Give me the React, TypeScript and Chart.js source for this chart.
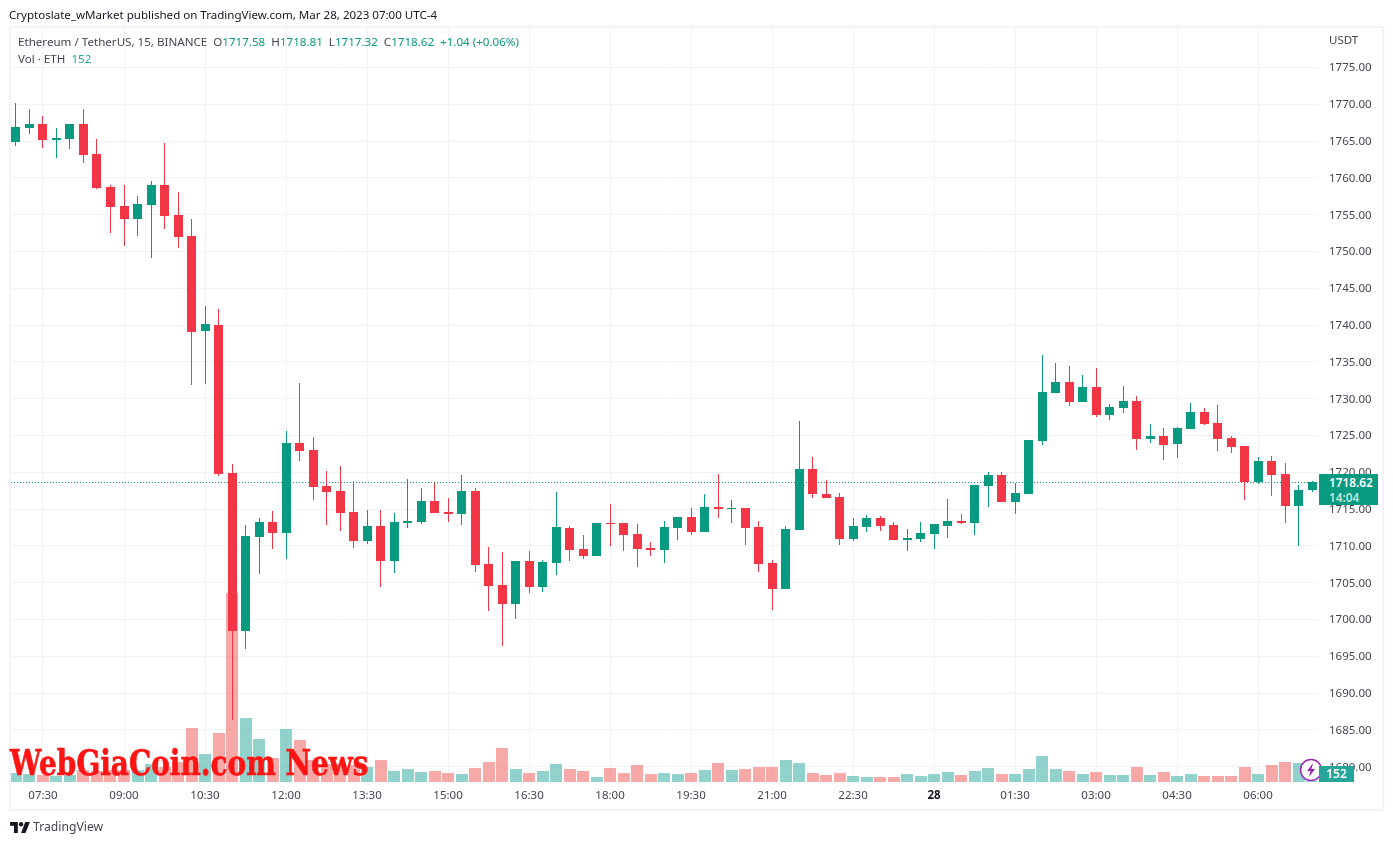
import React, { useEffect, useRef } from "react";
import { Chart, registerables } from "chart.js";

Chart.register(...registerables);

// prettier-ignore
const candleOpen = [1764.95,1766.8,1767.35,1765.2,1765.3,1767.35,1763.25,1758.8,1756.2,1754.45,1756.35,1759.05,1755,1752.1,1739.2,1740.05,1719.9,1698.5,1711.2,1713.3,1711.8,1724,1723.05,1718.15,1717.5,1714.65,1710.7,1712.75,1708,1713.15,1713.25,1716.1,1714.65,1714.35,1717.5,1707.55,1704.7,1702.15,1708,1704.45,1707.7,1712.45,1709.6,1708.65,1713.15,1713.15,1711.65,1709.75,1709.45,1712.45,1713.95,1711.9,1715.3,1715,1715.15,1712.6,1707.7,1704.15,1712.15,1720.45,1717.05,1716.65,1710.9,1712.55,1713.75,1712.8,1710.75,1710.9,1711.6,1712.65,1713.35,1713.1,1718.1,1719.6,1715.95,1717,1724.2,1730.75,1732.25,1729.5,1731.55,1727.75,1728.7,1729.65,1724.5,1724.9,1723.8,1725.85,1728.15,1726.65,1724.65,1723.55,1718.65,1721.5,1719.75,1715.4,1717.58];
// prettier-ignore
const candleHigh = [1770.15,1769.4,1768.4,1766.8,1767.35,1769.4,1765.3,1759.05,1759.05,1757.55,1759.6,1764.75,1758.1,1754.45,1742.6,1742.2,1721.15,1712.85,1713.8,1714.75,1725.65,1732.15,1724.8,1720.2,1720.9,1718.85,1714.9,1714.9,1714.5,1719.1,1717.9,1718.55,1716.5,1719.65,1717.9,1709.85,1709.2,1708,1709.35,1708.1,1717.35,1712.75,1711.5,1713.15,1715.7,1713.15,1713,1710.55,1713.4,1713.95,1715.15,1717.05,1719.8,1716.2,1715.15,1713.4,1708.1,1712.75,1727,1722.1,1719,1717.2,1713.75,1714.15,1714,1713.2,1712.25,1713.2,1712.95,1716.35,1714.3,1718.25,1720,1720,1718.5,1724.35,1736,1734.8,1734.4,1733.2,1734.15,1729.25,1731.7,1730.35,1726.55,1726,1726.1,1729.4,1728.7,1729.1,1724.9,1723.55,1722.05,1722.2,1721.25,1718.25,1718.81];
// prettier-ignore
const candleLow = [1764.4,1766,1764.1,1762.7,1763.95,1762.05,1758.5,1752.5,1750.8,1752.1,1749.15,1753.1,1750.5,1731.9,1732,1719.5,1686.4,1696,1706.2,1709.6,1708.25,1721.55,1716.25,1712.85,1712.05,1709.75,1710.3,1704.45,1706.35,1712.45,1713,1714.5,1713.25,1712.85,1706.5,1701.2,1696.4,1700.1,1703.6,1703.75,1706.05,1707.95,1708.25,1708.65,1710,1709.35,1707.15,1708.65,1707.7,1710.8,1711.5,1711.9,1713.8,1713.15,1710.15,1706.5,1701.3,1704.15,1712.15,1716.55,1716.55,1710.15,1710.65,1711.85,1712,1710.75,1709.25,1710.5,1709.55,1711.05,1712.95,1711.45,1715.25,1715.95,1714.3,1717,1723.7,1730.75,1729,1729.5,1727.5,1727.05,1728,1723,1723.95,1721.65,1721.9,1725.85,1726.4,1722.85,1722.6,1716.2,1718.4,1716.85,1713.1,1710,1717.32];
// prettier-ignore
const candleClose = [1766.94,1767.35,1765.2,1765.45,1767.35,1763.1,1758.65,1756.05,1754.45,1756.5,1759.05,1754.85,1752,1739.1,1740.17,1719.8,1698.5,1711.4,1713.3,1711.8,1724,1722.9,1718,1717.35,1714.5,1710.7,1712.75,1708,1713.25,1713.4,1716.1,1714.5,1714.35,1717.5,1707.4,1704.55,1702.15,1708,1704.45,1707.85,1712.6,1709.45,1708.65,1713.15,1713,1711.5,1709.6,1709.45,1712.6,1713.95,1711.9,1715.3,1715.05,1715.15,1712.45,1707.55,1704.15,1712.3,1720.45,1717.05,1716.55,1710.95,1712.65,1713.75,1712.65,1710.75,1711.05,1711.7,1712.95,1713.35,1713.1,1718.25,1719.6,1715.95,1717.15,1724.35,1730.9,1732.25,1729.5,1731.55,1727.75,1728.85,1729.65,1724.5,1724.9,1723.7,1726,1728.15,1726.55,1724.5,1723.4,1718.65,1721.5,1719.6,1715.4,1717.55,1718.62];
// prettier-ignore
const candleVolume = [1305,1155,1005,855,1005,1755,1605,1755,1755,1800,2700,2250,3000,8055,4155,7305,28350,9555,6405,3555,7905,6255,3300,2700,2700,2550,2205,3255,1605,1905,1455,1605,1305,1155,2100,3000,5100,1950,1350,1650,2700,1950,1650,750,2100,1350,2550,1200,1350,1200,1350,1800,2850,1800,1950,2250,2250,3300,2850,1350,1050,1350,900,750,750,750,1200,900,1200,1500,1050,1650,2100,1200,1200,1950,3900,1950,1650,1200,1500,1050,1050,2250,1050,1500,900,1200,900,900,900,2250,1200,2550,3000,2850,152];

const timeTickIndex = [2, 8, 14, 20, 26, 32, 38, 44, 50, 56, 62, 68, 74, 80, 86, 92];
const timeTickLabels = ["07:30", "09:00", "10:30", "12:00", "13:30", "15:00", "16:30", "18:00", "19:30", "21:00", "22:30", "28", "01:30", "03:00", "04:30", "06:00"];
const priceTicks = [1775, 1770, 1765, 1760, 1755, 1750, 1745, 1740, 1735, 1730, 1725, 1720, 1715, 1710, 1705, 1700, 1695, 1690, 1685, 1680];
const lastPrice = 1718.62;
const xMin = -0.37;
const xMax = 96.44;

const GREEN = "#089981";
const RED = "#F23645";
const VOL_GREEN = "rgba(38,166,154,0.5)";
const VOL_RED = "rgba(239,83,80,0.5)";
const GRID = "#f1f2f4";
const TEXT = "#434651";
const FONT = "'Noto Sans', sans-serif";

const isUp = (i: number) => candleClose[i] >= candleOpen[i];
const isDayTick = (c: any) => timeTickLabels[timeTickIndex.indexOf(c.tick?.value)] === "28";

const snapBars = {
  id: "snapBars",
  beforeDatasetsDraw(chart: any) {
    chart.data.datasets.forEach((ds: any, di: number) => {
      if (ds.type === "line") return;
      chart.getDatasetMeta(di).data.forEach((el: any) => {
        if (ds.snapKind === "vol") {
          el.x = Math.round(el.x);
        } else {
          el.x = Math.floor(el.x) + 0.5;
        }
        el.y = Math.round(el.y);
        el.base = Math.round(el.base);
        if (Math.abs(el.base - el.y) < 1) el.base = el.y + 1;
      });
    });
  },
};

function TextAt({ style, children }: { style: React.CSSProperties; children: React.ReactNode }) {
  return <div style={{ position: "absolute", whiteSpace: "pre", fontFamily: FONT, ...style }}>{children}</div>;
}

export default function App() {
  const ref = useRef<HTMLCanvasElement | null>(null);
  useEffect(() => {
    document.body.style.margin = "0";
    const idx = candleOpen.map((_, i) => i);
    const chart = new Chart(ref.current as HTMLCanvasElement, {
      type: "bar",
      data: {
        datasets: [
          {
            type: "line",
            data: [{ x: xMin, y: lastPrice }, { x: xMax, y: lastPrice }],
            borderColor: GREEN,
            borderWidth: 1,
            borderDash: [1, 2],
            pointRadius: 0,
            order: 4,
            yAxisID: "y",
          },
          {
            snapKind: "vol",
            data: idx.map((i) => ({ x: i, y: candleVolume[i] })),
            backgroundColor: idx.map((i) => (isUp(i) ? VOL_GREEN : VOL_RED)),
            barThickness: 12,
            inflateAmount: 0,
            grouped: false,
            order: 3,
            yAxisID: "vol",
          },
          {
            snapKind: "wick",
            data: idx.map((i) => ({ x: i, y: [candleLow[i], candleHigh[i]] })),
            backgroundColor: idx.map((i) => (isUp(i) ? GREEN : RED)),
            barThickness: 1,
            inflateAmount: 0,
            grouped: false,
            order: 2,
            yAxisID: "y",
          },
          {
            snapKind: "body",
            data: idx.map((i) => ({ x: i, y: [candleOpen[i], candleClose[i]] })),
            backgroundColor: idx.map((i) => (isUp(i) ? GREEN : RED)),
            barThickness: 9,
            inflateAmount: 0,
            grouped: false,
            order: 1,
            yAxisID: "y",
          },
        ] as any,
      },
      options: {
        responsive: false,
        animation: false,
        events: [],
        layout: { padding: { left: 11, top: 28, right: 10, bottom: 35 } },
        plugins: { legend: { display: false }, tooltip: { enabled: false }, title: { display: false } },
        scales: {
          x: {
            type: "linear",
            offset: false,
            min: xMin,
            max: xMax,
            grid: { color: GRID, drawTicks: false, offset: false },
            border: { display: false },
            afterBuildTicks: (s: any) => {
              s.ticks = timeTickIndex.map((value) => ({ value }));
            },
            afterFit: (s: any) => {
              s.height = 28;
            },
            ticks: {
              autoSkip: false,
              maxRotation: 0,
              padding: 7,
              color: (c: any) => (isDayTick(c) ? "#131722" : TEXT),
              font: (c: any) => ({
                family: FONT,
                size: 11.5,
                weight: isDayTick(c) ? "bold" : "normal",
              }),
              callback: (v: any) => timeTickLabels[timeTickIndex.indexOf(v)],
            },
          },
          y: {
            position: "right",
            min: 1677.925,
            max: 1780.375,
            grid: { color: GRID, drawTicks: false },
            border: { display: false },
            afterBuildTicks: (s: any) => {
              s.ticks = priceTicks.map((value) => ({ value }));
            },
            afterFit: (s: any) => {
              s.width = 65;
            },
            ticks: {
              autoSkip: false,
              padding: 11,
              labelOffset: 0.5,
              color: TEXT,
              font: { family: FONT, size: 11.5 },
              callback: (v: any) => Number(v).toFixed(2),
            },
          },
          vol: {
            display: false,
            min: 0,
            max: 113100,
          },
        } as any,
      },
      plugins: [snapBars],
    } as any);
    return () => chart.destroy();
  }, []);

  const green = { color: GREEN };
  return (
    <div style={{ position: "absolute", left: 0, top: 0, width: 1393, height: 845, background: "#fff", overflow: "hidden" }}>
      <div style={{ position: "absolute", left: 9, top: 26, width: 1371, height: 781, border: "2px solid #f0f3fa" }} />
      <canvas ref={ref} width={1393} height={845} style={{ position: "absolute", left: 0, top: 0, width: 1393, height: 845 }} />

      <TextAt style={{ left: 9, top: 6, fontSize: 11.55, lineHeight: "18px", color: "#131722" }}>
        Cryptoslate_wMarket published on TradingView.com, Mar 28, 2023 07:00 UTC-4
      </TextAt>
      <TextAt style={{ left: 18, top: 33, fontSize: 11.6, lineHeight: "18px", color: TEXT }}>
        {"Ethereum / TetherUS, 15, BINANCE  O"}
        <span style={green}>1717.58</span>
        {"  H"}
        <span style={green}>1718.81</span>
        {"  L"}
        <span style={green}>1717.32</span>
        {"  C"}
        <span style={green}>1718.62</span>
        <span style={green}>{"  +1.04 (+0.06%)"}</span>
      </TextAt>
      <TextAt style={{ left: 18, top: 50, fontSize: 11.6, lineHeight: "18px", color: TEXT }}>
        {"Vol · ETH  "}
        <span style={{ color: "#26a69a" }}>152</span>
      </TextAt>
      <TextAt style={{ left: 1329, top: 31, fontSize: 11.5, lineHeight: "18px", color: TEXT }}>USDT</TextAt>

      <div style={{ position: "absolute", left: 1319, top: 474, width: 59, height: 31, background: GREEN }} />
      <TextAt style={{ left: 1329, top: 474, fontSize: 11.8, lineHeight: "16px", fontWeight: 600, color: "#fff" }}>1718.62</TextAt>
      <TextAt style={{ left: 1329, top: 489, fontSize: 11.8, lineHeight: "16px", color: "rgba(255,255,255,0.75)", fontWeight: 600 }}>14:04</TextAt>

      <svg style={{ position: "absolute", left: 1299, top: 758 }} width={24} height={24} viewBox="0 0 24 24">
        <circle cx={12} cy={12} r={10.5} fill="#fff" stroke="#9c27b0" strokeWidth={1.5} />
        <path d="M14 5 L8 13 L11.5 13 L10 19 L16 11 L12.5 11 Z" fill="#9c27b0" />
      </svg>
      <div style={{ position: "absolute", left: 1319, top: 766, width: 35, height: 16, background: "#26a69a" }} />
      <TextAt style={{ left: 1319, width: 35, textAlign: "center", top: 766, fontSize: 12, lineHeight: "16px", fontWeight: 600, color: "#fff" }}>152</TextAt>

      <TextAt
        style={{
          left: 10,
          top: 740,
          fontFamily: "'DejaVu Serif', serif",
          fontWeight: 700,
          fontSize: 36,
          lineHeight: "44px",
          color: "#ff1414",
          WebkitTextStroke: "0.7px #ff1414",
          transformOrigin: "0 0",
          transform: "scaleX(0.776)",
        }}
      >
        WebGiaCoin.com News
      </TextAt>

      <svg style={{ position: "absolute", left: 10, top: 822 }} width={20} height={11} viewBox="0 0 36 20">
        <path d="M14 20H7V7H0V0h14v20ZM28 20h-8l7.5-20H36l-8 20Z" fill="#131722" />
        <circle cx={20} cy={4} r={4} fill="#131722" />
      </svg>
      <TextAt style={{ left: 33, top: 818, fontSize: 12.2, lineHeight: "18px", color: TEXT }}>TradingView</TextAt>
    </div>
  );
}
